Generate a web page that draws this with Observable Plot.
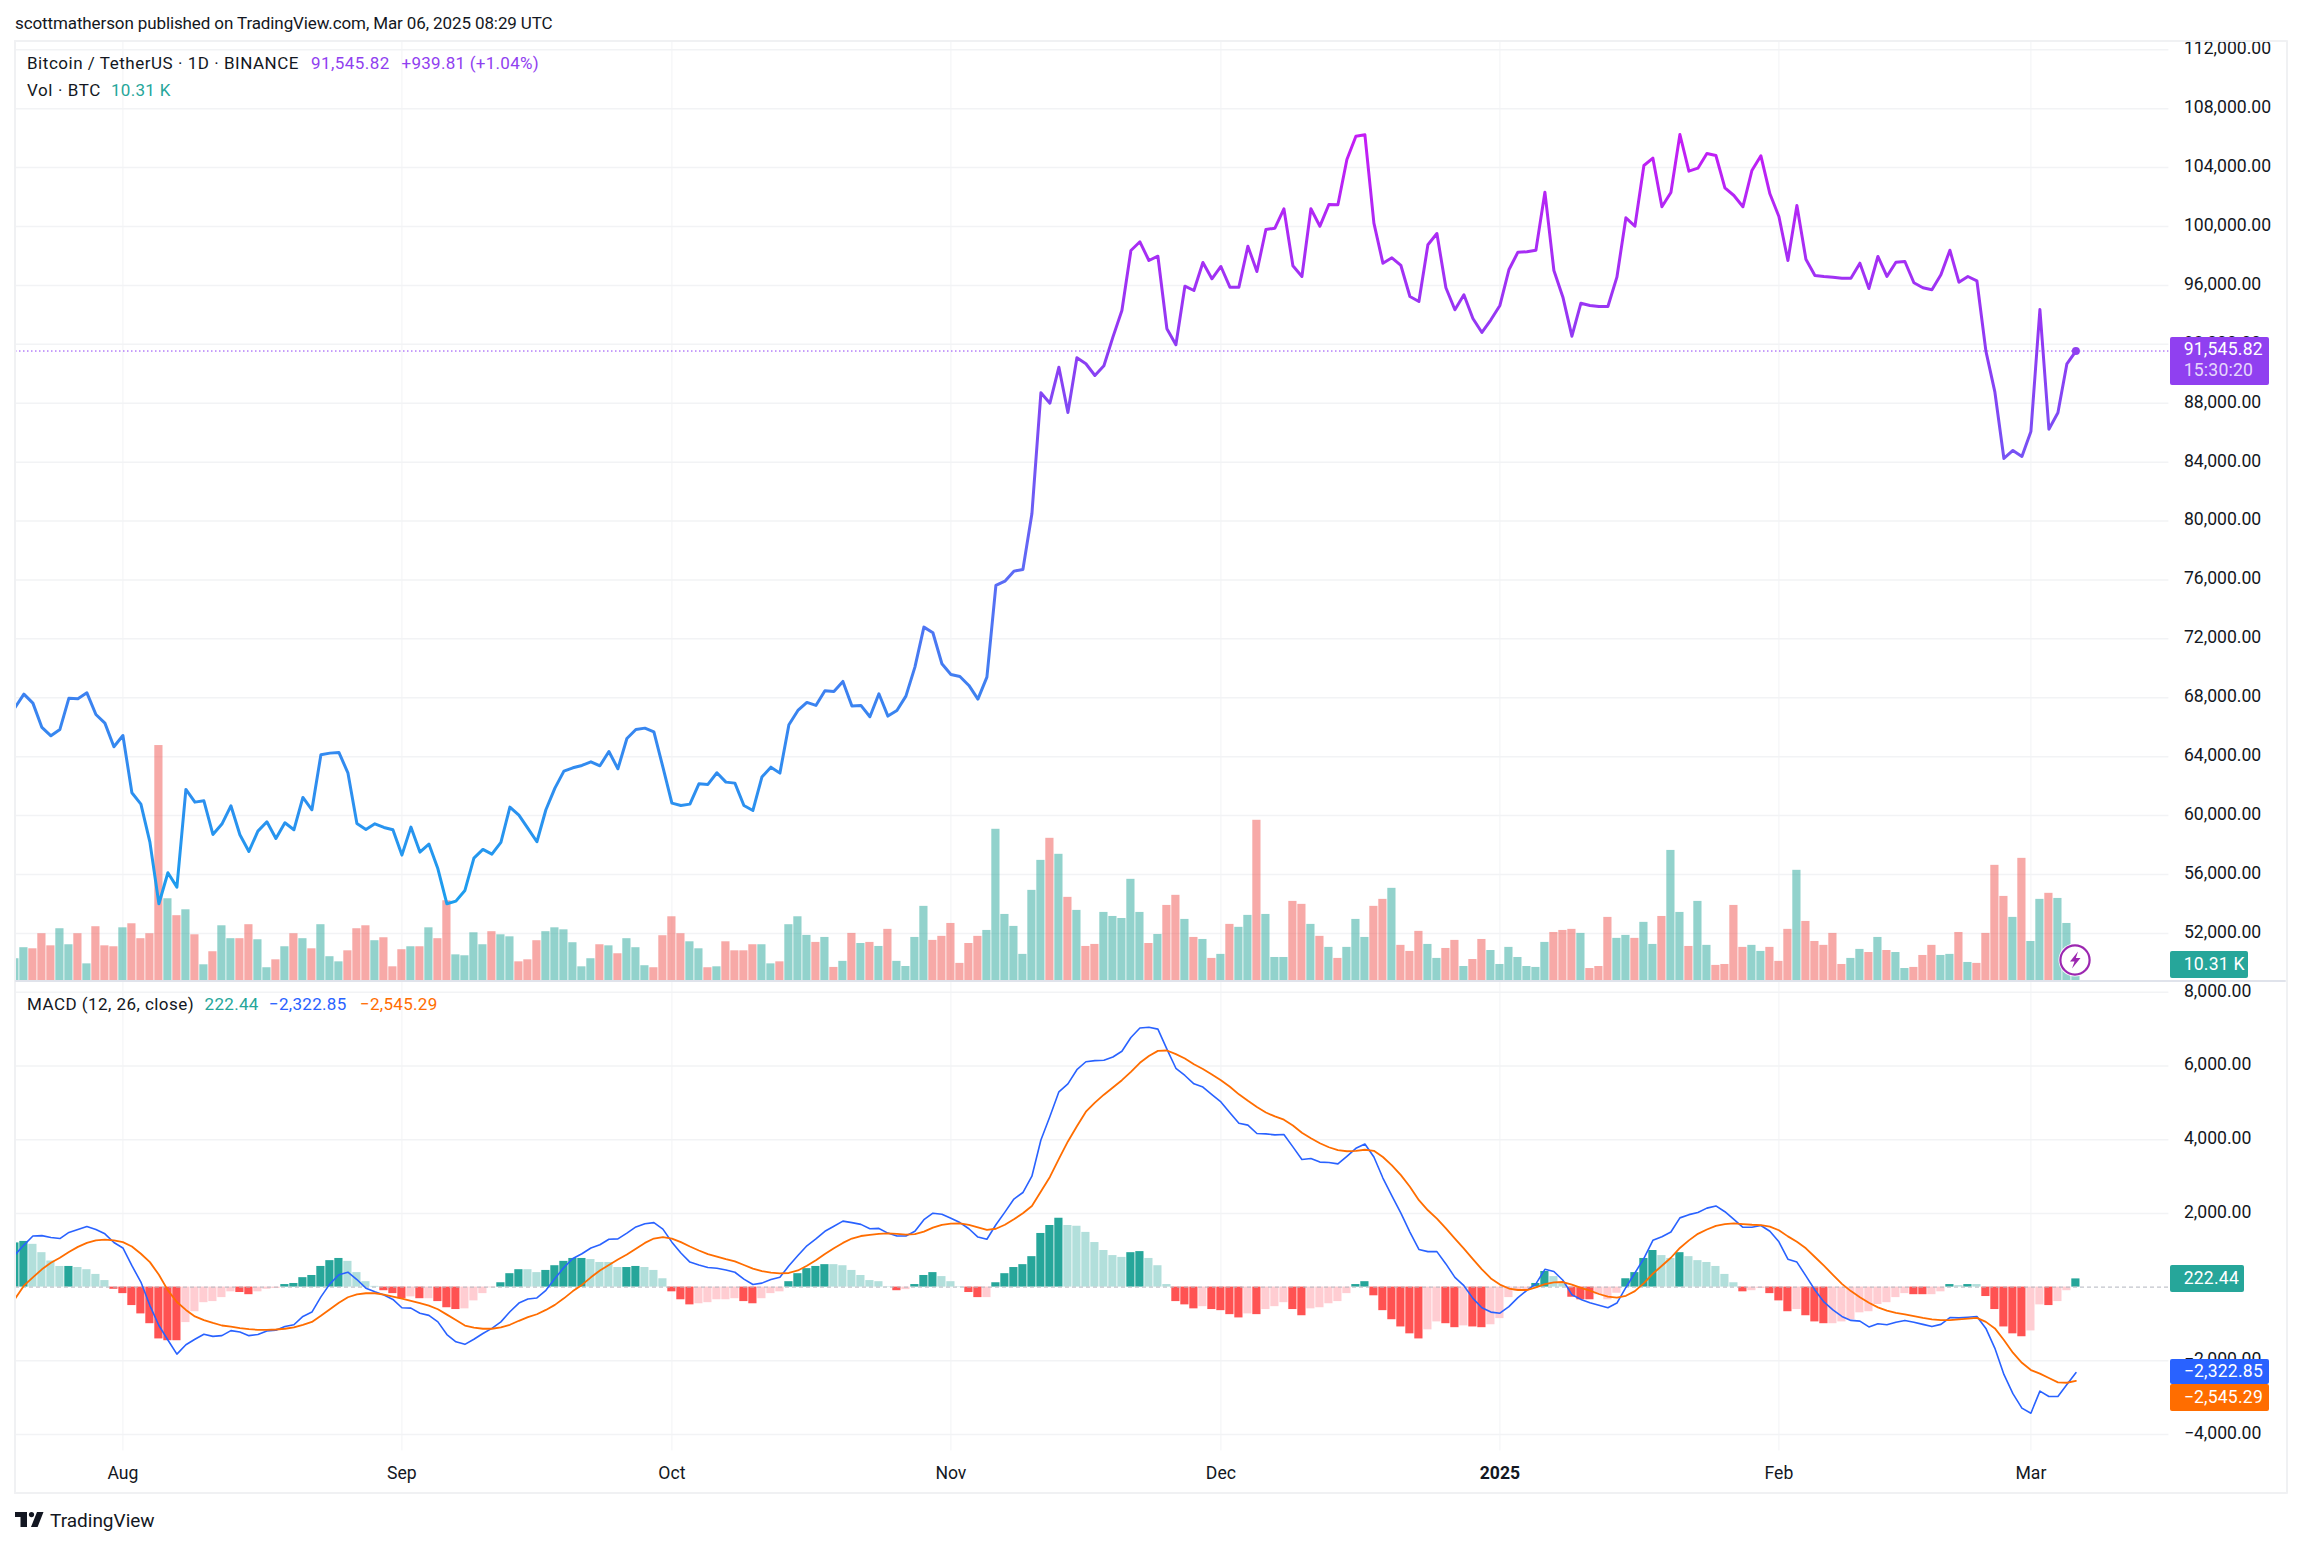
<!DOCTYPE html>
<html>
<head>
<meta charset="utf-8">
<script src="https://cdn.jsdelivr.net/npm/d3@7"></script>
<script src="https://cdn.jsdelivr.net/npm/@observablehq/plot@0.6"></script>
<style>
html,body{margin:0;padding:0;background:#fff;overflow:hidden}
#page{position:relative;width:2301px;height:1546px;background:#fff;font-family:Roboto,sans-serif;color:#131722}
#page>svg{position:absolute;left:0;top:0}
.t{position:absolute;white-space:pre;transform:translateY(-50%);line-height:1;font-size:17px}
.b{position:absolute;border-radius:2px}
</style>
</head>
<body>
<div id="page"></div>
<script>
const closePrice = [67319,68246,67635,65983,65418,65848,67975,67930,68337,66866,66278,64671,65440,61548,60779,58199,54012,56117,55143,61774,60914,61005,58719,59421,60665,58697,57565,58945,59579,58448,59511,59036,61231,60394,64128,64241,64286,62906,59466,59059,59443,59194,59036,57316,59217,57520,58063,56388,54012,54193,54917,57112,57701,57384,58176,60575,60032,59127,58221,60394,61865,63019,63245,63404,63652,63381,64354,63177,65237,65848,65938,65689,63290,60846,60688,60779,62159,62114,62906,62272,62204,60688,60349,62612,63290,62883,66167,67140,67683,67479,68475,68430,69108,67434,67479,66710,68271,66755,67140,68113,70082,72797,72413,70308,69584,69448,68837,67909,69403,75626,75920,76599,76712,80494,88710,88004,90449,87373,91087,90679,89885,90544,92486,94298,98372,98963,97693,97985,93056,91969,95948,95656,97558,96451,97286,95881,95881,98664,96947,99798,99887,101204,97334,96607,101204,100022,101496,101475,104551,106133,106228,100226,97510,97877,97354,95249,94910,98759,99527,95840,94346,95364,93755,92805,93667,94638,97062,98257,98284,98393,102331,97014,95202,92553,94794,94638,94570,94570,96560,100593,100022,104144,104640,101340,102311,106249,103757,103961,104959,104823,102630,102107,101340,103804,104803,102222,100681,97693,101428,97782,96675,96607,96560,96492,96492,97510,95792,97965,96607,97578,97626,96179,95840,95704,96722,98393,96220,96607,96315,91535,88751,84249,84792,84385,86083,94366,86239,87352,90679,91545.82];
const volumeK = [14.2,21.3,20.6,30.3,22.5,33.5,23.2,30.3,10.9,34.8,22.5,21.9,34.1,36.7,27.1,30.3,151.4,52.8,41.9,45.7,29.6,10.3,18.7,35.4,27.1,27.1,36.1,26.4,8.4,13.5,21.9,30.3,27.1,20.6,36.1,15.5,12.2,19.3,33.5,35.4,25.8,27.7,9.0,20.0,21.9,21.9,34.1,27.1,51.5,16.7,16.1,30.9,23.2,31.6,29.6,28.3,12.2,13.5,25.8,31.6,34.1,32.8,24.5,9.0,14.2,23.2,22.5,17.4,27.1,21.3,9.7,8.4,29.0,41.2,30.3,25.1,20.6,8.4,9.0,25.1,19.3,19.3,23.2,23.2,10.9,12.2,36.1,41.2,29.2,24.7,27.9,8.6,12.5,30.5,24.0,24.7,22.1,33.1,12.5,9.2,27.9,47.9,26.0,28.6,36.9,11.2,24.0,28.6,32.4,97.5,42.7,35.0,17.0,58.2,77.5,91.7,81.4,53.7,45.3,22.1,23.4,44.0,41.4,40.1,65.3,44.0,24.0,29.8,48.5,55.0,39.5,27.9,26.6,14.4,17.0,36.3,34.4,42.1,103.3,42.7,15.0,15.0,51.1,49.2,36.3,28.6,21.5,14.4,21.5,39.5,27.9,47.9,52.4,59.5,22.8,18.9,31.8,23.4,14.4,20.8,26.0,9.2,13.7,26.6,19.5,10.5,21.5,15.0,9.2,8.6,24.7,31.1,32.4,33.1,30.5,7.9,9.2,40.8,27.3,29.2,27.3,37.6,23.4,41.4,83.9,44.0,22.1,51.1,22.8,9.9,10.5,48.5,21.5,22.8,18.9,21.5,12.5,33.1,71.1,38.2,25.3,22.8,30.5,10.5,14.4,20.2,18.2,27.9,19.5,18.2,7.9,8.6,16.3,22.8,16.3,17.0,31.1,11.8,11.2,30.5,74.3,54.3,40.8,78.8,25.3,52.4,56.3,53.0,36.9,10.31];
const volumeSide = "GGRRRGGRGR"+"RRGRRRRGRG"+"RGRGGRRGGR"+"GRGRGGGRRR"+"GRRRGRGRRG"+"GGGRGGRRRG"+"GGGGGRGRGG"+"GRRRRGGRGR"+"RRRGGRGGGR"+"GRGRGRGRGG"+"GGRRRRRRGG"+"GGGGGRGRGR"+"RGGGGGRGRR"+"GRGRGRGGRG"+"GGRRGRGRGG"+"GRRGRRRGGR"+"RGRRGGGGGG"+"GRRRGRRRGG"+"RGGRGGRGGR"+"RRRGGRRRGR"+"RRRRGGRGRG"+"GRRRGGRGRR"+"RRGRGGRGGG";
const macdHist = [1199,1239,1160,934,708,560,560,531,472,344,177,-59,-177,-501,-727,-993,-1406,-1455,-1455,-963,-668,-423,-393,-285,-128,-147,-206,-128,-59,-39,69,98,256,315,560,718,777,698,393,147,20,-98,-177,-315,-265,-315,-315,-393,-560,-609,-590,-374,-177,-20,118,364,472,472,393,452,580,698,777,777,747,668,668,531,531,560,531,452,226,-128,-344,-482,-452,-423,-344,-344,-315,-393,-452,-315,-177,-128,147,364,501,560,609,609,580,452,315,177,147,10,-98,-69,69,315,393,285,147,10,-147,-285,-285,118,364,531,609,826,1455,1671,1868,1671,1651,1484,1209,993,855,806,934,963,777,580,69,-393,-482,-590,-531,-609,-639,-747,-836,-727,-747,-609,-531,-423,-609,-777,-590,-560,-452,-393,-177,69,147,-236,-639,-885,-1081,-1268,-1406,-1160,-944,-993,-1101,-1052,-1081,-1101,-1022,-855,-285,-108,-69,98,423,285,88,-275,-344,-344,-206,-344,-167,226,393,777,993,855,777,934,826,718,668,560,344,118,-128,-98,-39,-177,-374,-668,-609,-777,-944,-993,-993,-944,-885,-698,-668,-472,-423,-285,-177,-206,-206,-206,-128,69,39,69,69,-256,-609,-1081,-1268,-1347,-1189,-482,-501,-393,-98,222.44];
const histTone = "DDLLLLDLLL"+"LRRRRRRRRP"+"PPPPPRRPPP"+"DDDDDDDLLL"+"LRRRPRPRRR"+"PPPPDDDLLD"+"DDDDLLLLDD"+"LLLRRRPPPP"+"PRRPPPDDDD"+"DLLLLLLLRP"+"DDDLLLRRPD"+"DDDDDDDLLL"+"LLLLDDLLLR"+"RRPRRRRPRP"+"PPRRPPPPPD"+"DRRRRRRPPR"+"RPRRPPPPPD"+"DLLRRRPPPD"+"DDDLLDLLLL"+"LLRPPRRRPR"+"RRPPPPPPPP"+"PRRPPDLDLR"+"RRRRPPRPPD";
const macdLine = [875,1140,1386,1396,1347,1317,1484,1563,1642,1563,1445,1209,1062,580,138,-501,-1042,-1435,-1819,-1563,-1416,-1278,-1337,-1317,-1180,-1219,-1317,-1288,-1189,-1170,-1071,-1022,-796,-678,-265,88,334,403,206,-29,-128,-216,-334,-560,-570,-708,-767,-944,-1288,-1484,-1553,-1416,-1258,-1121,-944,-668,-433,-324,-295,-88,236,531,777,904,1062,1150,1298,1307,1465,1632,1720,1750,1573,1219,924,678,600,531,511,462,403,216,69,108,206,265,580,855,1121,1307,1514,1651,1789,1750,1701,1583,1592,1465,1386,1386,1514,1828,2005,1976,1868,1750,1583,1357,1298,1691,2035,2389,2566,3008,3991,4630,5298,5515,5898,6114,6144,6154,6242,6399,6773,7028,7048,6999,6458,5937,5741,5515,5426,5220,5023,4728,4443,4394,4168,4158,4129,4138,3804,3460,3490,3391,3382,3342,3549,3765,3883,3529,2959,2477,2005,1494,1022,963,963,629,265,39,-305,-560,-678,-708,-531,-285,-88,88,482,423,187,-206,-334,-423,-492,-560,-433,-10,383,777,1268,1366,1494,1878,1966,2025,2143,2202,2045,1838,1622,1622,1671,1514,1229,757,678,305,-79,-403,-619,-796,-904,-924,-1081,-993,-1022,-954,-904,-954,-1012,-1071,-1012,-826,-836,-816,-796,-1121,-1661,-2369,-2890,-3283,-3421,-2821,-2969,-2969,-2644,-2322.85];
const signalLine = [-324,39,265,482,659,796,954,1091,1199,1268,1288,1268,1219,1101,904,678,334,-88,-403,-619,-796,-895,-973,-1042,-1071,-1111,-1140,-1160,-1160,-1150,-1130,-1091,-1022,-944,-777,-600,-423,-275,-197,-167,-167,-206,-256,-315,-374,-433,-501,-600,-747,-895,-1042,-1101,-1130,-1130,-1091,-1022,-914,-816,-737,-619,-482,-305,-108,59,265,452,600,747,885,1042,1199,1317,1357,1317,1219,1101,993,895,826,757,698,600,501,433,393,374,383,452,580,727,895,1052,1199,1317,1386,1416,1445,1455,1445,1425,1435,1504,1612,1691,1720,1730,1691,1622,1553,1583,1691,1838,2005,2202,2595,2988,3480,3952,4365,4758,5003,5220,5416,5613,5839,6085,6272,6409,6419,6321,6203,6045,5918,5770,5613,5436,5230,5053,4886,4738,4630,4541,4384,4188,4040,3903,3794,3716,3686,3696,3726,3696,3529,3303,3037,2723,2359,2084,1858,1592,1317,1042,757,482,236,69,-39,-79,-79,-10,79,128,138,69,-20,-98,-187,-256,-285,-236,-108,108,364,580,796,1062,1268,1445,1563,1661,1710,1730,1710,1691,1681,1642,1543,1376,1229,1052,816,580,334,88,-108,-275,-423,-550,-639,-698,-737,-786,-836,-875,-895,-895,-875,-855,-836,-944,-1121,-1435,-1779,-2054,-2251,-2349,-2467,-2585,-2595,-2545.29];
const priceTicks = [112000,108000,104000,100000,96000,92000,88000,84000,80000,76000,72000,68000,64000,60000,56000,52000];
const macdTicks = [8000,6000,4000,2000,0,-2000,-4000];
const monthTicks = [["2024-08-01","Aug"],["2024-09-01","Sep"],["2024-10-01","Oct"],["2024-11-01","Nov"],["2024-12-01","Dec"],["2025-01-01","2025"],["2025-02-01","Feb"],["2025-03-01","Mar"]];
const gradientStops = [[106000,"#c41df5"],[92000,"#8f3bf3"],[76000,"#5b6cf5"],[68000,"#3c82f0"],[54000,"#1c9eee"]];
const headerText = "scottmatherson published on TradingView.com, Mar 06, 2025 08:29 UTC";
const legendPrice = ["Bitcoin / TetherUS · 1D · BINANCE","91,545.82","+939.81 (+1.04%)"];
const legendVol = ["Vol · BTC","10.31 K"];
const legendMacd = ["MACD (12, 26, close)","222.44","−2,322.85","−2,545.29"];

const DAY = 864e5;
const start = Date.UTC(2024,6,20);
const rows = closePrice.map((p,i)=>({
  date:new Date(start+i*DAY), x1:new Date(start+(i-0.455)*DAY), x2:new Date(start+(i+0.455)*DAY),
  price:p, vol:volumeK[i], side:volumeSide[i], hist:macdHist[i], tone:histTone[i], macd:macdLine[i], signal:signalLine[i]
}));
const volFill = {G:"#26a69a",R:"#ef5350"};
const histFill = {D:"#26a69a",L:"#b2dfdb",R:"#ff5252",P:"#ffcdd2"};
const tickDates = monthTicks.map(d=>new Date(d[0]));
const tickName = new Map(monthTicks.map(d=>[+new Date(d[0]),d[1]]));
const FONT = "Roboto, sans-serif";
const xScale = {type:"utc",domain:[new Date(Date.UTC(2024,6,20,1,36)),new Date(Date.UTC(2025,2,16,8,0))],range:[15,2168.4]};
const GRID = "#f2f3f5";
const base = {width:2301,marginLeft:15,marginRight:132.6,
  style:{background:"transparent",fontFamily:FONT,fontSize:"17.6px",color:"#131722",overflow:"visible"}};
const priceY = {domain:[48000,112000],range:[991.8,49.3]};
const page = document.getElementById("page");

// Price pane: grid and axis
page.append(Plot.plot({...base,height:981,marginTop:41,marginBottom:0,x:{...xScale,axis:null},y:priceY,marks:[
  Plot.ruleY(priceTicks,{stroke:GRID,strokeWidth:1.5}),
  Plot.ruleX(tickDates,{stroke:GRID,strokeWidth:1}),
  Plot.axisY({anchor:"right",ticks:priceTicks,tickFormat:d3.format(",.2f"),tickSize:0,tickPadding:15,label:null,fill:"#131722",dy:-1.2})
]}));
// Volume
page.append(Plot.plot({...base,height:981,marginTop:41,marginBottom:0.7,
  x:{...xScale,axis:null},y:{domain:[0,604.5],range:[980.3,41],axis:null},color:{type:"identity"},marks:[
  Plot.rect(rows,{x1:"x1",x2:"x2",y1:()=>0,y2:"vol",fill:d=>volFill[d.side],fillOpacity:0.5,clip:true})
]}));
// Price line
page.append(Plot.plot({...base,height:981,marginTop:41,marginBottom:0,
  x:{...xScale,axis:null},y:{...priceY,axis:null},marks:[
  (index,scales)=>{
    const defs=d3.create("svg:defs");
    const g=defs.append("linearGradient").attr("id","priceGradient").attr("gradientUnits","userSpaceOnUse")
      .attr("x1",0).attr("x2",0).attr("y1",scales.y(gradientStops[0][0])).attr("y2",scales.y(gradientStops[gradientStops.length-1][0]));
    gradientStops.forEach(([v,c],k)=>g.append("stop").attr("offset",k===0?0:(gradientStops[0][0]-v)/(gradientStops[0][0]-gradientStops[gradientStops.length-1][0])).attr("stop-color",c));
    return defs.node();
  },
  Plot.ruleY([closePrice[closePrice.length-1]],{stroke:"#8f3ff5",strokeWidth:1,strokeDasharray:"1.5 2.5"}),
  Plot.line(rows,{x:"date",y:"price",stroke:"url(#priceGradient)",strokeWidth:3,curve:"linear",clip:true}),
  Plot.dot(rows.slice(-1),{x:"date",y:"price",r:4,fill:"#9040f0"})
]}));
// MACD pane
page.append(Plot.plot({...base,height:1493,marginTop:982,marginBottom:42.6,x:xScale,
  y:{domain:[-4000,8000],range:[1434.04,991.72]},color:{type:"identity"},marks:[
  Plot.ruleY(macdTicks.filter(d=>d!==0),{stroke:GRID,strokeWidth:1.5}),
  Plot.ruleX(tickDates,{stroke:GRID,strokeWidth:1}),
  Plot.rect(rows,{x1:"x1",x2:"x2",y1:()=>0,y2:"hist",fill:d=>histFill[d.tone],clip:true}),
  Plot.ruleY([0],{stroke:"#b2b5be",strokeWidth:1,strokeDasharray:"4 3"}),
  Plot.line(rows,{x:"date",y:"macd",stroke:"#2962ff",strokeWidth:1.6,curve:"linear",clip:true}),
  Plot.line(rows,{x:"date",y:"signal",stroke:"#ff6d00",strokeWidth:1.8,curve:"linear",clip:true}),
  Plot.axisY({anchor:"right",ticks:macdTicks,tickFormat:d3.format(",.2f"),tickSize:0,tickPadding:15,label:null,fill:"#131722",dy:-1.2}),
  Plot.axisX({ticks:tickDates.filter(d=>tickName.get(+d)!=="2025"),tickFormat:d=>tickName.get(+d),tickSize:0,tickPadding:15.5,label:null,fill:"#131722"}),
  Plot.axisX({ticks:tickDates.filter(d=>tickName.get(+d)==="2025"),tickFormat:d=>tickName.get(+d),tickSize:0,tickPadding:15.5,label:null,fill:"#131722",fontWeight:"bold"})
]}));

// Chart frame and separators
function box(x,y,w,h,bg){const e=document.createElement("div");e.style.cssText=`position:absolute;border-radius:2px;left:${x}px;top:${y}px;width:${w}px;height:${h}px;background:${bg}`;page.append(e);return e}
box(14,39.5,2273,2,"#f0f1f3");box(14,1491.5,2273,2,"#f0f1f3");box(14,39.5,2,1454,"#f0f1f3");box(2286,39.5,2,1454,"#f0f1f3");
box(15,980,2271,2,"#e0e3eb");

function label(text,x,y,color,extra){const e=document.createElement("div");e.className="t";e.textContent=text;e.style.left=x+"px";e.style.top=y+"px";e.style.color=color||"#131722";if(extra)e.style.cssText+=extra;page.append(e);return e}
label(headerText,15,23,"#131722","letter-spacing:-0.11px");
label(legendPrice[0],27,63.3,"#131722","letter-spacing:0.53px");
label(legendPrice[1],311,63.3,"#9040f0","letter-spacing:0.45px");
label(legendPrice[2],401.5,63.3,"#9040f0","letter-spacing:0.27px");
label(legendVol[0],27,90,"#131722","letter-spacing:0.6px");
label(legendVol[1],111,90,"#26a69a","letter-spacing:0.3px");
label(legendMacd[0],27,1003.5,"#131722","letter-spacing:0.45px");
label(legendMacd[1],204.6,1003.5,"#26a69a","letter-spacing:0.3px");
label(legendMacd[2],269,1003.5,"#2962ff","letter-spacing:0.3px");
label(legendMacd[3],360,1003.5,"#ff6d00","letter-spacing:0.3px");

// Price-scale badges
const badgeX=2170, badgeText="font-size:17.6px;letter-spacing:0.2px";
box(badgeX,337,99,47.7,"#9040f0");
label("91,545.82",2183.7,350,"#ffffff",badgeText);
label("15:30:20",2183.7,370.7,"rgba(255,255,255,0.8)",badgeText);
box(badgeX,951,78,27,"#26a69a");
label("10.31 K",2183.7,964.5,"#ffffff",badgeText);
box(badgeX,1265,74,27,"#26a69a");
label("222.44",2183.7,1278.5,"#ffffff",badgeText);
box(badgeX,1359,99,25.4,"#2962ff");
label("−2,322.85",2183.7,1371.7,"#ffffff",badgeText);
box(badgeX,1384.4,99,26.6,"#ff6d00");
label("−2,545.29",2183.7,1397.7,"#ffffff",badgeText);

// Lightning icon and logo
const icon=document.createElement("div");icon.style.cssText="position:absolute;left:2058.4px;top:943.3px;width:34px;height:34px";
icon.innerHTML='<svg width="34" height="34" viewBox="0 0 34 34"><circle cx="17" cy="17" r="16.5" fill="#fff"/><circle cx="17" cy="17" r="14.6" fill="#fff" stroke="#9c27b0" stroke-width="2.2"/><path d="M20 8.5 L12 18.5 h4.5 L14 25.5 L22.5 15 h-4.6 Z" fill="#9c27b0"/></svg>';
page.append(icon);
const logo=document.createElement("div");logo.style.cssText="position:absolute;left:15px;top:1511px;width:30px;height:17px";
logo.innerHTML='<svg width="30" height="17" viewBox="0 0 30 17"><path d="M12 1H0v5h5.5v10H12Z M28.5 1H22l-6 15h6.6Z" fill="#131722"/><circle cx="16.5" cy="3.6" r="2.6" fill="#131722"/></svg>';
page.append(logo);
label("TradingView",50,1520,"#131722","font-size:19px");
</script>
</body>
</html>
